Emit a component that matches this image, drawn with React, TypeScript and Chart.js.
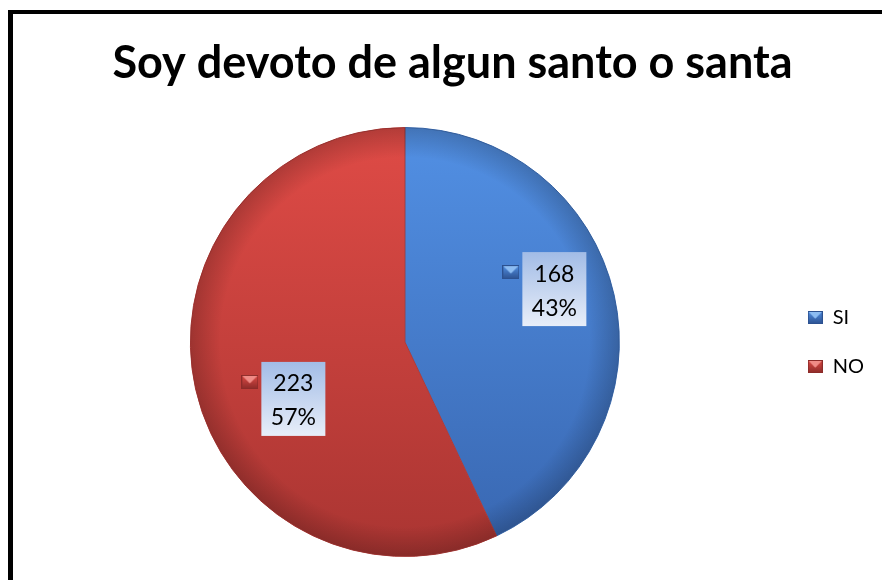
import React, { useEffect, useRef } from 'react';
import { Chart, registerables } from 'chart.js';
Chart.register(...registerables);

const TITLE = 'Soy devoto de algun santo o santa';
const categories = ['SI', 'NO'];
const counts = [168, 223];
const gradTop = ['#5290e4', '#df4b46'];
const gradBottom = ['#3866b0', '#aa3532'];
const lightColors = ['#8cbcf2', '#ef8b86'];
const darkColors = ['#2c5190', '#8c2b29'];
const sliceBorders = ['#3a6cb5', '#b23a37'];

function makeMarker(i: number, w: number, h: number) {
  const c = document.createElement('canvas');
  c.width = w;
  c.height = h;
  const g = c.getContext('2d')!;
  const lg = g.createLinearGradient(0, 0, 0, h);
  lg.addColorStop(0, gradTop[i]);
  lg.addColorStop(1, darkColors[i]);
  g.fillStyle = lg;
  g.fillRect(0, 0, w, h);
  g.fillStyle = lightColors[i];
  g.beginPath();
  g.moveTo(1, 1);
  g.lineTo(w - 1, 1);
  g.lineTo(w / 2, h * 0.6);
  g.closePath();
  g.fill();
  g.strokeStyle = darkColors[i];
  g.lineWidth = 1;
  g.strokeRect(0.5, 0.5, w - 1, h - 1);
  return c;
}

const labelPlugin = {
  id: 'sliceLabels',
  afterDatasetsDraw(chart: any, _args: any, opts: any) {
    const ctx = chart.ctx as CanvasRenderingContext2D;
    const meta = chart.getDatasetMeta(0);
    const ds = chart.data.datasets[0].data as number[];
    const total = ds.reduce((a, b) => a + b, 0);
    const a0 = meta.data[0].getProps(['x', 'y', 'outerRadius'], true);
    const cx = a0.x, cy = a0.y, R = a0.outerRadius;
    ctx.save();
    const rg = ctx.createRadialGradient(cx, cy, R * 0.86, cx, cy, R);
    rg.addColorStop(0, 'rgba(0,0,0,0)');
    rg.addColorStop(1, 'rgba(0,0,0,0.2)');
    ctx.fillStyle = rg;
    ctx.beginPath();
    ctx.arc(cx, cy, R, 0, Math.PI * 2);
    ctx.fill();
    ctx.restore();

    meta.data.forEach((el: any, i: number) => {
      const p = el.getProps(['x', 'y', 'startAngle', 'endAngle', 'outerRadius'], true);
      const mid = (p.startAngle + p.endAngle) / 2;
      const gx = p.x + Math.cos(mid) * p.outerRadius * opts.radiusFactor + opts.offsets[i][0];
      const gy = p.y + Math.sin(mid) * p.outerRadius * opts.radiusFactor + opts.offsets[i][1];
      const bw = 64, bh = 74, mw = 17, mh = 14, gap = 3;
      const left = gx - (mw + gap + bw) / 2;
      const top = gy - bh / 2;
      ctx.save();
      ctx.drawImage(opts.markers[i], left, top + 13, mw, mh);
      const bx = left + mw + gap;
      const bg = ctx.createLinearGradient(0, top, 0, top + bh);
      bg.addColorStop(0, '#a2bce6');
      bg.addColorStop(1, '#e8eef9');
      ctx.fillStyle = bg;
      ctx.fillRect(bx, top, bw, bh);
      ctx.fillStyle = '#000';
      ctx.font = '23px Lato';
      ctx.textAlign = 'center';
      ctx.textBaseline = 'middle';
      const v = ds[i];
      ctx.fillText(String(v), bx + bw / 2, top + 22);
      ctx.fillText(Math.round((v / total) * 100) + '%', bx + bw / 2, top + 56);
      ctx.restore();
    });
  },
};

export default function App() {
  const ref = useRef<HTMLCanvasElement>(null);
  useEffect(() => {
    const legendMarkers = categories.map((_, i) => makeMarker(i, 15, 13));
    const labelMarkers = categories.map((_, i) => makeMarker(i, 17, 14));
    const bgFn = (c: any) => {
      const i = c.dataIndex ?? 0;
      const chart = c.chart;
      const area = chart.chartArea;
      if (!area) return gradTop[i];
      const g = chart.ctx.createLinearGradient(0, area.top, 0, area.bottom);
      g.addColorStop(0, gradTop[i]);
      g.addColorStop(1, gradBottom[i]);
      return g;
    };
    const chart = new Chart(ref.current!, {
      type: 'pie',
      data: {
        labels: categories,
        datasets: [
          {
            data: counts,
            backgroundColor: bgFn,
            borderColor: sliceBorders,
            borderWidth: 1,
          },
        ],
      },
      plugins: [labelPlugin],
      options: {
        responsive: false,
        animation: false,
        layout: { padding: { top: 0, left: 31, right: 8, bottom: 23 } },
        plugins: {
          tooltip: { enabled: false },
          title: {
            display: true,
            text: TITLE,
            color: '#000',
            font: { family: 'Lato', weight: 'bold', size: 45 },
            padding: { top: 36, bottom: 37 },
          },
          legend: {
            position: 'right',
            fullSize: false,
            labels: {
              color: '#000',
              font: { family: 'Lato', size: 20 },
              usePointStyle: true,
              boxWidth: 15,
              padding: 29,
              generateLabels: () =>
                categories.map((t, i) => ({
                  text: t,
                  fillStyle: gradTop[i],
                  strokeStyle: sliceBorders[i],
                  lineWidth: 0,
                  pointStyle: legendMarkers[i],
                  hidden: false,
                  index: i,
                  fontColor: '#000',
                })),
            },
          },
          sliceLabels: { radiusFactor: 0.7, offsets: [[-7, -20], [25, 24]], markers: labelMarkers },
        } as any,
      },
    });
    return () => chart.destroy();
  }, []);
  return (
    <div style={{ position: 'fixed', left: 0, top: 0, width: 882, height: 580, overflow: 'hidden', background: '#fff' }}>
      <div
        style={{
          position: 'absolute',
          left: 8,
          top: 10,
          width: 1000,
          height: 1000,
          borderLeft: '5px solid #000',
          borderTop: '4px solid #000',
        }}
      />
      <canvas ref={ref} width={882} height={580} style={{ position: 'absolute', left: 0, top: 0, width: 882, height: 580 }} />
    </div>
  );
}
